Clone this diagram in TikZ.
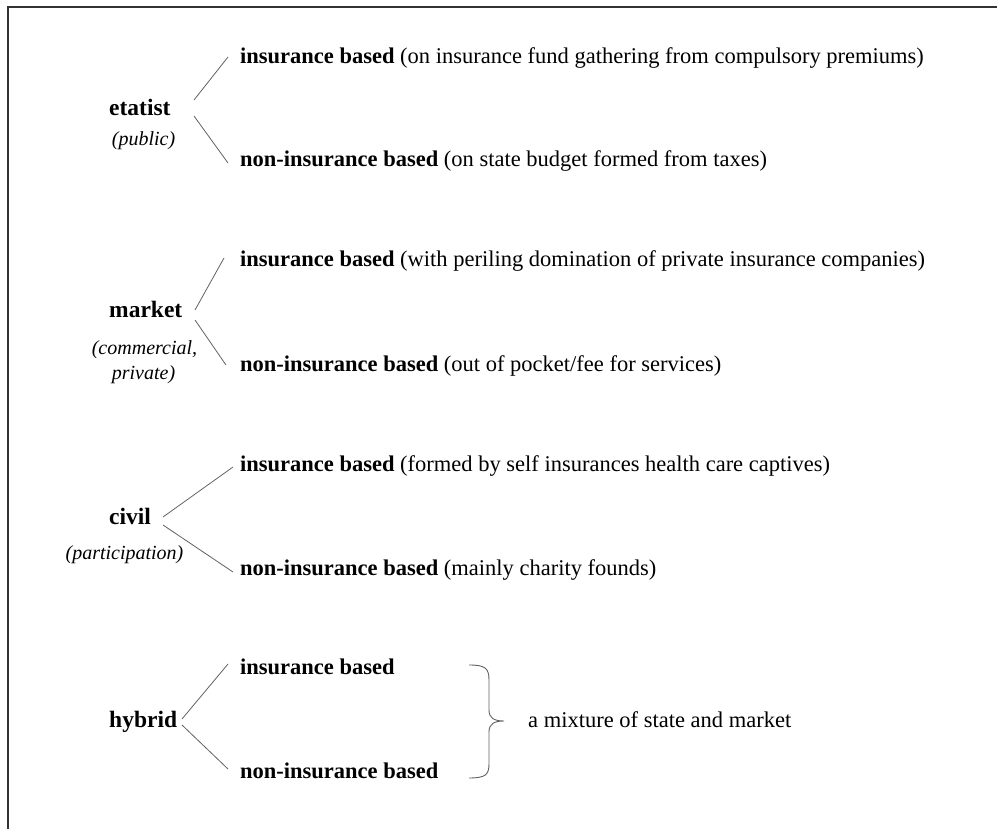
\documentclass[tikz,border=0pt]{standalone}
\usepackage{fontspec}
\setmainfont{Liberation Serif}
\tikzset{
  item/.style={anchor=base west, inner sep=0pt, font=\fontsize{22.5}{27}\selectfont},
  head/.style={anchor=base west, inner sep=0pt, font=\fontsize{23.5}{28}\selectfont\bfseries},
  sub/.style={anchor=base, inner sep=0pt, font=\fontsize{20}{24}\selectfont\itshape},
  branch/.style={draw=black!62, line width=0.8pt},
  frameline/.style={draw=black!80, line width=1.4pt},
  bracepath/.style={draw=black!62, line width=0.9pt}
}
\begin{document}
\begin{tikzpicture}[x=1pt,y=-1pt]
\useasboundingbox (0,0) rectangle (997,829);
\draw[frameline] (8,829) -- (8,7) -- (997,7);

% etatist
\node[head] (et) at (109,116) {etatist};
\node[sub] (etsub) at (143.5,146) {(public)};
\node[item] (et1) at (240,64) {\textbf{insurance based} (on insurance fund gathering from compulsory premiums)};
\node[item] (et2) at (240,167) {\textbf{non-insurance based} (on state budget formed from taxes)};
\coordinate (etA) at (194,100); \coordinate (etB) at (228,57);
\coordinate (etC) at (194,116); \coordinate (etD) at (228,163);
\draw[branch] (etA) -- (etB);
\draw[branch] (etC) -- (etD);

% market
\node[head] (mk) at (109,318) {market};
\node[sub] (mksub1) at (144.5,355) {(commercial,};
\node[sub] (mksub2) at (143.5,379) {private)};
\node[item] (mk1) at (240,267) {\textbf{insurance based} (with periling domination of private insurance companies)};
\node[item] (mk2) at (240,371) {\textbf{non-insurance based} (out of pocket/fee for services)};
\coordinate (mkA) at (195,310); \coordinate (mkB) at (224,258);
\coordinate (mkC) at (195,320); \coordinate (mkD) at (226,365);
\draw[branch] (mkA) -- (mkB);
\draw[branch] (mkC) -- (mkD);

% civil
\node[head] (cv) at (109,524) {civil};
\node[sub] (cvsub) at (124.5,559) {(participation)};
\node[item] (cv1) at (240,471) {\textbf{insurance based} (formed by self insurances health care captives)};
\node[item] (cv2) at (240,575) {\textbf{non-insurance based} (mainly charity founds)};
\coordinate (cvA) at (163,517); \coordinate (cvB) at (233,467);
\coordinate (cvC) at (163,525); \coordinate (cvD) at (233,572);
\draw[branch] (cvA) -- (cvB);
\draw[branch] (cvC) -- (cvD);

% hybrid
\node[head] (hy) at (109,727) {hybrid};
\node[item] (hy1) at (240,674) {\textbf{insurance based}};
\node[item] (hy2) at (240,778) {\textbf{non-insurance based}};
\coordinate (hyA) at (182,719); \coordinate (hyB) at (228,664);
\coordinate (hyC) at (182,725); \coordinate (hyD) at (228,769);
\draw[branch] (hyA) -- (hyB);
\draw[branch] (hyC) -- (hyD);

\node[item] (mix) at (528,727) {a mixture of state and market};
\draw[bracepath] (469,665) .. controls (485,665) and (489,668) .. (489,680)
  -- (489,710) .. controls (489,718) and (494,721) .. (504,721)
  .. controls (494,721) and (489,724) .. (489,732)
  -- (489,764) .. controls (489,775) and (485,778) .. (469,778);
\end{tikzpicture}
\end{document}
